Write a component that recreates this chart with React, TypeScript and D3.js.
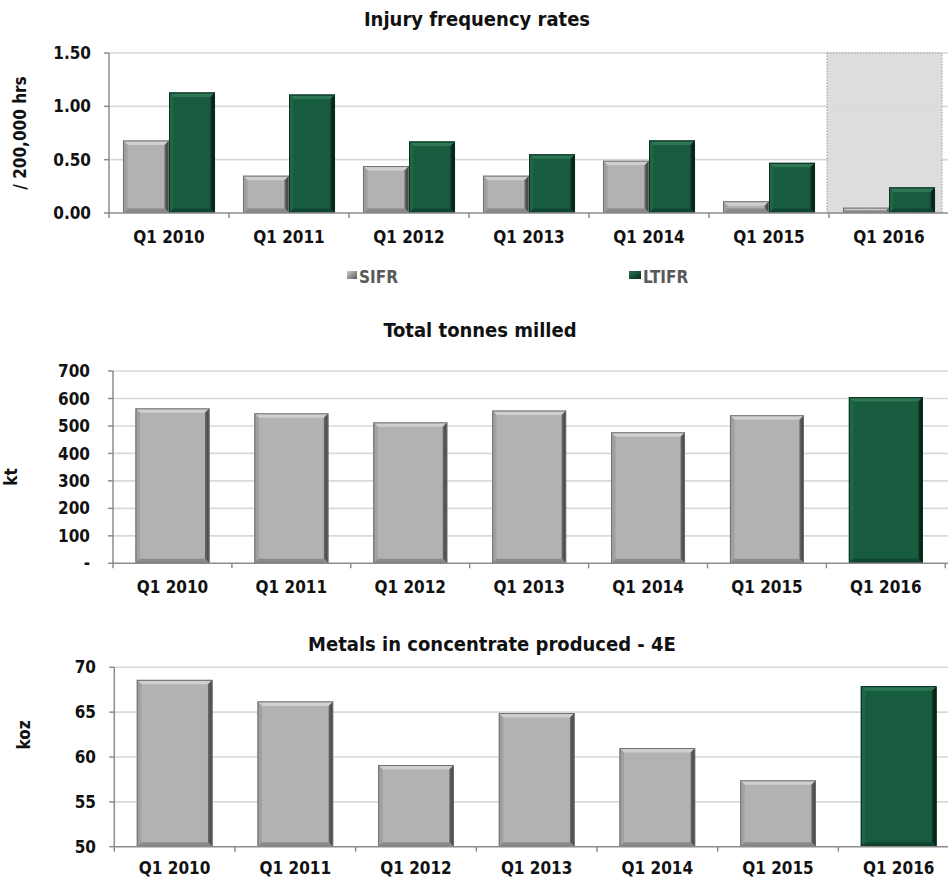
import React from "react";
import * as d3 from "d3";

// Quarter labels shared by all three panels
const quarters = ["Q1 2010", "Q1 2011", "Q1 2012", "Q1 2013", "Q1 2014", "Q1 2015", "Q1 2016"];

// Injury frequency rates (/ 200,000 hrs)
const sifr = [0.68, 0.35, 0.44, 0.35, 0.49, 0.11, 0.05];
const ltifr = [1.13, 1.11, 0.67, 0.55, 0.68, 0.47, 0.24];
const injuryTicks = [0, 0.5, 1.0, 1.5];

// Total tonnes milled (kt)
const milled = [564, 546, 513, 556, 477, 539, 605];
const milledTicks = [0, 100, 200, 300, 400, 500, 600, 700];

// Metals in concentrate produced - 4E (koz)
const metals = [68.6, 66.2, 59.1, 64.9, 61.0, 57.4, 67.9];
const metalsTicks = [50, 55, 60, 65, 70];

const FONT = "'DejaVu Sans Condensed', 'DejaVu Sans', sans-serif";
const GRID = "#d9d9d9";
const AXIS = "#8c8c8c";

type Palette = { face: string; top: string; left: string; bottom: string; edge: string; rightId: string };

const GRAY: Palette = { face: "#b2b2b2", top: "#cfcfcf", left: "#a0a0a0", bottom: "#8a8a8a", edge: "#6f6f6f", rightId: "rg-gray" };
const GREEN: Palette = { face: "#175c3e", top: "#2c7654", left: "#1f6646", bottom: "#0e4630", edge: "#0a3020", rightId: "rg-green" };

function BevelBar({ x, y, w, h, p }: { x: number; y: number; w: number; h: number; p: Palette }) {
  if (h <= 0) return null;
  const b = Math.min(4.5, h / 2, w / 2);
  const pts = (a: number[][]) => a.map((q) => q.join(",")).join(" ");
  return (
    <g>
      <rect x={x} y={y} width={w} height={h} fill={p.face} />
      <polygon points={pts([[x, y], [x + w, y], [x + w - b, y + b], [x + b, y + b]])} fill={p.top} />
      <polygon points={pts([[x, y], [x + b, y + b], [x + b, y + h - b], [x, y + h]])} fill={p.left} />
      <polygon points={pts([[x + w, y], [x + w, y + h], [x + w - b, y + h - b], [x + w - b, y + b]])} fill={`url(#${p.rightId})`} />
      <polygon points={pts([[x, y + h], [x + b, y + h - b], [x + w - b, y + h - b], [x + w, y + h]])} fill={p.bottom} />
      <rect x={x + 0.5} y={y + 0.5} width={w - 1} height={h - 1} fill="none" stroke={p.edge} strokeWidth={1} />
    </g>
  );
}

type AxisFrame = {
  x0: number; x1: number; yTop: number; yBottom: number;
  labelRight: number; labelBaseline: number;
};

function Grid({ f, y, ticks }: { f: AxisFrame; y: d3.ScaleLinear<number, number>; ticks: number[] }) {
  return (
    <g>
      {ticks.slice(1).map((t) => (
        <line key={`g${t}`} x1={f.x0} x2={948} y1={y(t)} y2={y(t)} stroke={GRID} strokeWidth={1.6} />
      ))}
    </g>
  );
}

function Axes({
  f, y, ticks, fmt, step,
}: { f: AxisFrame; y: d3.ScaleLinear<number, number>; ticks: number[]; fmt: (v: number) => string; step: number }) {
  const bounds = d3.range(quarters.length + 1).map((i) => f.x0 + i * step);
  return (
    <g fontFamily={FONT} fontWeight="bold" fill="#111">
      <line x1={f.x0} x2={f.x0} y1={f.yTop} y2={f.yBottom} stroke={AXIS} strokeWidth={1.5} />
      <line x1={f.x0} x2={948} y1={f.yBottom} y2={f.yBottom} stroke={AXIS} strokeWidth={1.5} />
      {ticks.map((t) => (
        <g key={`t${t}`}>
          <line x1={f.x0 - 5} x2={f.x0} y1={y(t)} y2={y(t)} stroke={AXIS} strokeWidth={1.5} />
          <text x={f.labelRight} y={y(t)} dy="0.36em" textAnchor="end" fontSize={17}>
            {fmt(t)}
          </text>
        </g>
      ))}
      {bounds.map((bx, i) => (
        <line key={`b${i}`} x1={bx} x2={bx} y1={f.yBottom} y2={f.yBottom + 5} stroke={AXIS} strokeWidth={1.5} />
      ))}
      {quarters.map((q, i) => (
        <text key={q} x={f.x0 + (i + 0.5) * step} y={f.labelBaseline} textAnchor="middle" fontSize={17}>
          {q}
        </text>
      ))}
    </g>
  );
}

export default function App() {
  // ---------- Panel 1: injury frequency rates ----------
  const f1: AxisFrame = { x0: 109, x1: 949, yTop: 53, yBottom: 213, labelRight: 91, labelBaseline: 243 };
  const y1 = d3.scaleLinear().domain([0, 1.5]).range([f1.yBottom, f1.yTop]);
  const pad1 = 0.233;
  const xb1 = d3.scaleBand<string>().domain(quarters).range([f1.x0, f1.x1]).paddingInner(pad1).paddingOuter(pad1 / 2);
  const xs1 = d3.scaleBand<string>().domain(["SIFR", "LTIFR"]).range([0, xb1.bandwidth()]);
  const step1 = xb1.step();
  const hiX0 = f1.x0 + 6 * step1 - 2;
  const hiX1 = f1.x0 + 7 * step1 - 7;

  // ---------- Panel 2: tonnes milled ----------
  const f2: AxisFrame = { x0: 113, x1: 945.3, yTop: 371, yBottom: 563.3, labelRight: 90, labelBaseline: 593 };
  const y2 = d3.scaleLinear().domain([0, 700]).range([f2.yBottom, f2.yTop]);
  const pad2 = 0.378;
  const xb2 = d3.scaleBand<string>().domain(quarters).range([f2.x0, f2.x1]).paddingInner(pad2).paddingOuter(pad2 / 2);

  // ---------- Panel 3: metals in concentrate ----------
  const f3: AxisFrame = { x0: 114.3, x1: 959, yTop: 667.3, yBottom: 846.7, labelRight: 96, labelBaseline: 874 };
  const y3 = d3.scaleLinear().domain([50, 70]).range([f3.yBottom, f3.yTop]);
  const pad3 = 0.373;
  const xb3 = d3.scaleBand<string>().domain(quarters).range([f3.x0, f3.x1]).paddingInner(pad3).paddingOuter(pad3 / 2);

  const fmt1 = (v: number) => d3.format(".2f")(v);
  const fmt2 = (v: number) => (v === 0 ? "-" : String(v));
  const fmt3 = (v: number) => String(v);

  const latest = quarters.length - 1;

  return (
    <svg width={948} height={879} style={{ position: "absolute", left: 0, top: 0, background: "#fff" }}>
      <defs>
        <linearGradient id="rg-gray" x1="0" x2="1" y1="0" y2="0">
          <stop offset="0" stopColor="#6a6a6a" />
          <stop offset="1" stopColor="#3a3a3a" />
        </linearGradient>
        <linearGradient id="rg-green" x1="0" x2="1" y1="0" y2="0">
          <stop offset="0" stopColor="#0c3826" />
          <stop offset="1" stopColor="#03140d" />
        </linearGradient>
        <linearGradient id="lg-gray" x1="0" x2="1" y1="0" y2="1">
          <stop offset="0" stopColor="#cfcfcf" />
          <stop offset="1" stopColor="#5a5a5a" />
        </linearGradient>
        <linearGradient id="lg-green" x1="0" x2="1" y1="0" y2="1">
          <stop offset="0" stopColor="#2c7654" />
          <stop offset="1" stopColor="#052a1a" />
        </linearGradient>
      </defs>

      {/* Panel 1 */}
      <text x={477} y={26} textAnchor="middle" fontFamily={FONT} fontWeight="bold" fontSize={20} fill="#111">
        Injury frequency rates
      </text>
      <text
        transform={`translate(26,${(f1.yTop + f1.yBottom) / 2}) rotate(-90)`}
        textAnchor="middle"
        fontFamily={FONT}
        fontWeight="bold"
        fontSize={17}
        fill="#111"
      >
        / 200,000 hrs
      </text>
      <Grid f={f1} y={y1} ticks={injuryTicks} />
      <rect
        x={hiX0}
        y={f1.yTop}
        width={hiX1 - hiX0}
        height={f1.yBottom - f1.yTop}
        fill="#d9d9d9"
        fillOpacity={0.9}
        stroke="#9a9a9a"
        strokeWidth={1}
        strokeDasharray="1.5,1.5"
      />
      {quarters.map((q, i) => (
        <g key={`p1-${q}`}>
          <BevelBar x={xb1(q)! + xs1("SIFR")!} y={y1(sifr[i])} w={xs1.bandwidth()} h={y1(0) - y1(sifr[i])} p={GRAY} />
          <BevelBar x={xb1(q)! + xs1("LTIFR")!} y={y1(ltifr[i])} w={xs1.bandwidth()} h={y1(0) - y1(ltifr[i])} p={GREEN} />
        </g>
      ))}
      <Axes f={f1} y={y1} ticks={injuryTicks} fmt={fmt1} step={step1} />

      {/* Legend */}
      <g fontFamily={FONT} fontWeight="bold" fontSize={17} fill="#595959">
        <rect x={347} y={271} width={10} height={8} fill="url(#lg-gray)" />
        <text x={359} y={283}>SIFR</text>
        <rect x={629} y={271} width={12} height={8} fill="url(#lg-green)" />
        <text x={643} y={283}>LTIFR</text>
      </g>

      {/* Panel 2 */}
      <text x={480} y={337} textAnchor="middle" fontFamily={FONT} fontWeight="bold" fontSize={20} fill="#111">
        Total tonnes milled
      </text>
      <text x={12} y={477} textAnchor="middle" dominantBaseline="middle" transform="rotate(-90,12,477)" fontFamily={FONT} fontWeight="bold" fontSize={17} fill="#111">
        kt
      </text>
      <Grid f={f2} y={y2} ticks={milledTicks} />
      {quarters.map((q, i) => (
        <BevelBar key={`p2-${q}`} x={xb2(q)!} y={y2(milled[i])} w={xb2.bandwidth()} h={y2(0) - y2(milled[i])} p={i === latest ? GREEN : GRAY} />
      ))}
      <Axes f={f2} y={y2} ticks={milledTicks} fmt={fmt2} step={xb2.step()} />

      {/* Panel 3 */}
      <text x={492} y={651} textAnchor="middle" fontFamily={FONT} fontWeight="bold" fontSize={20} fill="#111">
        Metals in concentrate produced - 4E
      </text>
      <text x={25} y={735} textAnchor="middle" dominantBaseline="middle" transform="rotate(-90,25,735)" fontFamily={FONT} fontWeight="bold" fontSize={17} fill="#111">
        koz
      </text>
      <Grid f={f3} y={y3} ticks={metalsTicks} />
      {quarters.map((q, i) => (
        <BevelBar key={`p3-${q}`} x={xb3(q)!} y={y3(metals[i])} w={xb3.bandwidth()} h={y3(50) - y3(metals[i])} p={i === latest ? GREEN : GRAY} />
      ))}
      <Axes f={f3} y={y3} ticks={metalsTicks} fmt={fmt3} step={xb3.step()} />
    </svg>
  );
}
